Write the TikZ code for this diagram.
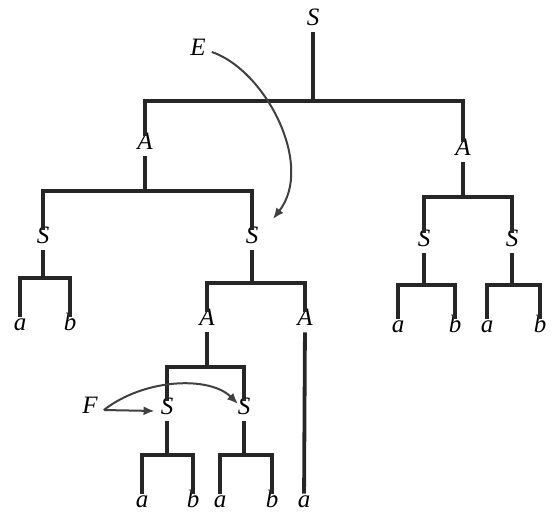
\documentclass[tikz,border=0pt]{standalone}
\usepackage{fontspec}
\setmainfont{Liberation Serif}
\usetikzlibrary{arrows.meta}
\tikzset{
  sym/.style={font=\fontsize{25}{27}\selectfont\itshape, inner xsep=6pt, inner ysep=9pt, text height=0.62em, text depth=0pt},
  branch/.style={line width=3.8pt, line cap=rect, draw=black!85},
  link/.style={-{Latex[length=11pt,width=9pt]}, line width=2pt, draw=black!75}
}
\begin{document}
\begin{tikzpicture}[x=1pt, y=-1pt]
  \useasboundingbox (0,0) rectangle (553,519);
  % labels of the tree
  \node[sym] (s0) at (313,22) {S};
  \node[sym] (a1) at (145,146) {A};
  \node[sym] (a2) at (463,152) {A};
  \node[sym] (s1) at (43,240) {S};
  \node[sym] (s2) at (252,240) {S};
  \node[sym] (s5) at (424,243) {S};
  \node[sym] (s6) at (512,243) {S};
  \node[sym] (t1) at (20,327) {a};
  \node[sym] (t2) at (70,327) {b};
  \node[sym] (t9) at (398,329) {a};
  \node[sym] (t10) at (455,329) {b};
  \node[sym] (t11) at (487,329) {a};
  \node[sym] (t12) at (540,329) {b};
  \node[sym] (a3) at (207,322) {A};
  \node[sym] (a4) at (305,322) {A};
  \node[sym] (s3) at (167,411) {S};
  \node[sym] (s4) at (244,411) {S};
  \node[sym] (t3) at (142,504) {a};
  \node[sym] (t4) at (193,504) {b};
  \node[sym] (t5) at (220,504) {a};
  \node[sym] (t6) at (272,504) {b};
  \node[sym] (t7) at (304,504) {a};
  \node[sym] (e) at (198,52) {E};
  \node[sym] (f) at (90,410) {F};
  % junctions
  \coordinate (j0) at (313,101);
  \coordinate (j1) at (145,191);
  \coordinate (j2) at (463,197);
  \coordinate (j3) at (43,278);
  \coordinate (j4) at (252,283);
  \coordinate (j5) at (424,285);
  \coordinate (j6) at (512,285);
  \coordinate (j7) at (207,367);
  \coordinate (j8) at (167,455);
  \coordinate (j9) at (244,455);
  \coordinate (pe) at (273,219);
  \coordinate (pf) at (238,404);
  % branches
  \draw[branch] (s0) -- (j0);
  \draw[branch] (a1) |- (j0) -| (a2);
  \draw[branch] (a1) -- (j1);
  \draw[branch] (s1) |- (j1) -| (s2);
  \draw[branch] (a2) -- (j2);
  \draw[branch] (s5) |- (j2) -| (s6);
  \draw[branch] (s1) -- (j3);
  \draw[branch] (t1) |- (j3) -| (t2);
  \draw[branch] (s5) -- (j5);
  \draw[branch] (t9) |- (j5) -| (t10);
  \draw[branch] (s6) -- (j6);
  \draw[branch] (t11) |- (j6) -| (t12);
  \draw[branch] (s2) -- (j4);
  \draw[branch] (a3) |- (j4) -| (a4);
  \draw[branch] (a4) -- (t7);
  \draw[branch] (a3) -- (j7);
  \draw[branch] (s3) |- (j7) -| (s4);
  \draw[branch] (s3) -- (j8);
  \draw[branch] (t3) |- (j8) -| (t4);
  \draw[branch] (s4) -- (j9);
  \draw[branch] (t5) |- (j9) -| (t6);
  % pointers
  \draw[link] (e.east) .. controls (265,70) and (315,165) .. (pe);
  \draw[link] (f.east) -- (s3.west);
  \draw[link] (f.east) .. controls (145,378) and (210,376) .. (pf);
\end{tikzpicture}
\end{document}
